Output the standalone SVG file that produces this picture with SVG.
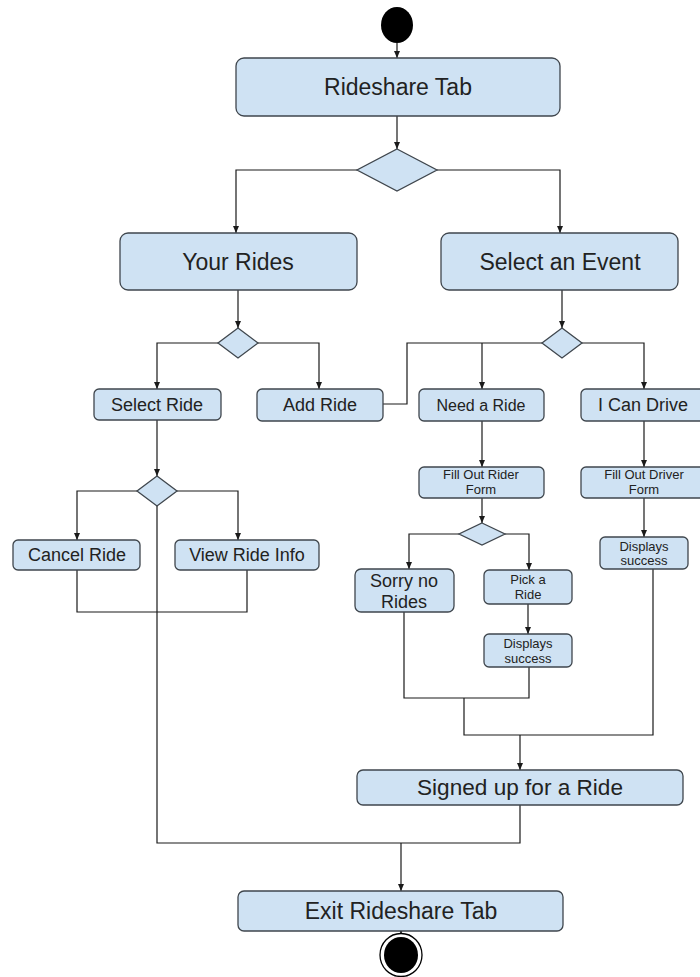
<svg xmlns="http://www.w3.org/2000/svg" width="700" height="977" viewBox="0 0 700 977">
<defs>
<marker id="arr" markerUnits="userSpaceOnUse" markerWidth="8" markerHeight="8" refX="7" refY="4" orient="auto">
<path d="M0,1 L7,4 L0,7 z" fill="#1a1a1a"/>
</marker>
<style>
.n{fill:#cfe2f3;stroke:#3f464d;stroke-width:1.3}
.d{fill:#cfe2f3;stroke:#3f464d;stroke-width:1.3}
.t{font-family:"Liberation Sans",Arial,sans-serif;fill:#222;text-anchor:middle}
.c{fill:none;stroke:#1a1a1a;stroke-width:1.2}
.a{fill:none;stroke:#1a1a1a;stroke-width:1.2;marker-end:url(#arr)}
</style>
</defs>
<rect width="700" height="977" fill="#fff"/>

<g id="connectors">
<path class="a" d="M397,43 V58"/>
<path class="a" d="M397,116 V149"/>
<path class="a" d="M357,170 H236 V233"/>
<path class="a" d="M437,170 H560 V233"/>
<path class="a" d="M238,290 V328"/>
<path class="a" d="M218,343 H157 V389"/>
<path class="a" d="M258,343 H319 V389"/>
<path class="c" d="M383,404 H407 V343 H542"/>
<path class="a" d="M562,290 V328"/>
<path class="a" d="M482,343 V389"/>
<path class="a" d="M582,343 H644 V389"/>
<path class="a" d="M482,421 V467"/>
<path class="a" d="M644,421 V467"/>
<path class="a" d="M482,498 V523"/>
<path class="a" d="M459,534 H409 V569"/>
<path class="a" d="M505,534 H529 V570"/>
<path class="a" d="M528,604 V634"/>
<path class="a" d="M644,498 V537"/>
<path class="c" d="M404,612 V698 H529 V667"/>
<path class="c" d="M464,698 V735 H653 V569"/>
<path class="a" d="M520,735 V770"/>
<path class="a" d="M157,420 V476"/>
<path class="a" d="M137,491 H77 V540"/>
<path class="a" d="M177,491 H238 V540"/>
<path class="c" d="M77,570 V612 H247 V570"/>
<path class="c" d="M157,506 V843 H520 V805"/>
<path class="a" d="M401,843 V891"/>
<path class="a" d="M401,931 V934"/>
</g>

<g id="start"><ellipse cx="397" cy="25" rx="16" ry="18" fill="#000"/></g>

<g id="rideshare-tab"><rect class="n" x="236" y="58" width="324" height="58" rx="8"/><text class="t" x="398" y="95" font-size="23">Rideshare Tab</text></g>

<g id="decision1"><polygon class="d" points="397,149 437,170 397,191 357,170"/></g>

<g id="your-rides"><rect class="n" x="120" y="233" width="237" height="57" rx="8"/><text class="t" x="238" y="270" font-size="23">Your Rides</text></g>

<g id="select-event"><rect class="n" x="441" y="233" width="237" height="57" rx="8"/><text class="t" x="560" y="270" font-size="23">Select an Event</text></g>

<g id="decision2"><polygon class="d" points="238,328 258,343 238,358 218,343"/></g>

<g id="decision3"><polygon class="d" points="562,328 582,343 562,358 542,343"/></g>

<g id="select-ride"><rect class="n" x="94" y="389" width="127" height="31" rx="5"/><text class="t" x="157" y="411" font-size="18">Select Ride</text></g>

<g id="add-ride"><rect class="n" x="257" y="389" width="126" height="32" rx="5"/><text class="t" x="320" y="411" font-size="18">Add Ride</text></g>

<g id="need-ride"><rect class="n" x="419" y="389" width="125" height="32" rx="5"/><text class="t" x="481" y="411" font-size="16">Need a Ride</text></g>

<g id="can-drive"><rect class="n" x="581" y="389" width="125" height="32" rx="5"/><text class="t" x="643" y="411" font-size="18">I Can Drive</text></g>

<g id="rider-form"><rect class="n" x="419" y="467" width="125" height="31" rx="5"/><text class="t" x="481" y="479" font-size="13">Fill Out Rider</text><text class="t" x="481" y="494" font-size="13">Form</text></g>

<g id="driver-form"><rect class="n" x="581" y="467" width="125" height="31" rx="5"/><text class="t" x="644" y="479" font-size="13">Fill Out Driver</text><text class="t" x="644" y="494" font-size="13">Form</text></g>

<g id="decision5"><polygon class="d" points="482,523 505,534 482,545 459,534"/></g>

<g id="sorry"><rect class="n" x="355" y="569" width="99" height="43" rx="6"/><text class="t" x="404" y="587" font-size="18">Sorry no</text><text class="t" x="404" y="608" font-size="18">Rides</text></g>

<g id="pick-ride"><rect class="n" x="484" y="570" width="88" height="34" rx="5"/><text class="t" x="528" y="584" font-size="13">Pick a</text><text class="t" x="528" y="599" font-size="13">Ride</text></g>

<g id="success-rider"><rect class="n" x="484" y="634" width="88" height="33" rx="5"/><text class="t" x="528" y="648" font-size="13">Displays</text><text class="t" x="528" y="663" font-size="13">success</text></g>

<g id="success-driver"><rect class="n" x="600" y="537" width="88" height="32" rx="5"/><text class="t" x="644" y="551" font-size="13">Displays</text><text class="t" x="644" y="565" font-size="13">success</text></g>

<g id="decision4"><polygon class="d" points="157,476 177,491 157,506 137,491"/></g>

<g id="cancel-ride"><rect class="n" x="13" y="540" width="127" height="30" rx="5"/><text class="t" x="77" y="561" font-size="18">Cancel Ride</text></g>

<g id="view-ride"><rect class="n" x="175" y="540" width="144" height="30" rx="5"/><text class="t" x="247" y="561" font-size="18">View Ride Info</text></g>

<g id="signed-up"><rect class="n" x="357" y="770" width="326" height="35" rx="6"/><text class="t" x="520" y="795" font-size="22.6">Signed up for a Ride</text></g>

<g id="exit-tab"><rect class="n" x="238" y="891" width="325" height="40" rx="6"/><text class="t" x="401" y="919" font-size="23">Exit Rideshare Tab</text></g>

<g id="end"><ellipse cx="401" cy="955" rx="21" ry="21.5" fill="#fff" stroke="#000" stroke-width="1.3"/><ellipse cx="401" cy="955" rx="17" ry="18" fill="#000"/></g>
</svg>
